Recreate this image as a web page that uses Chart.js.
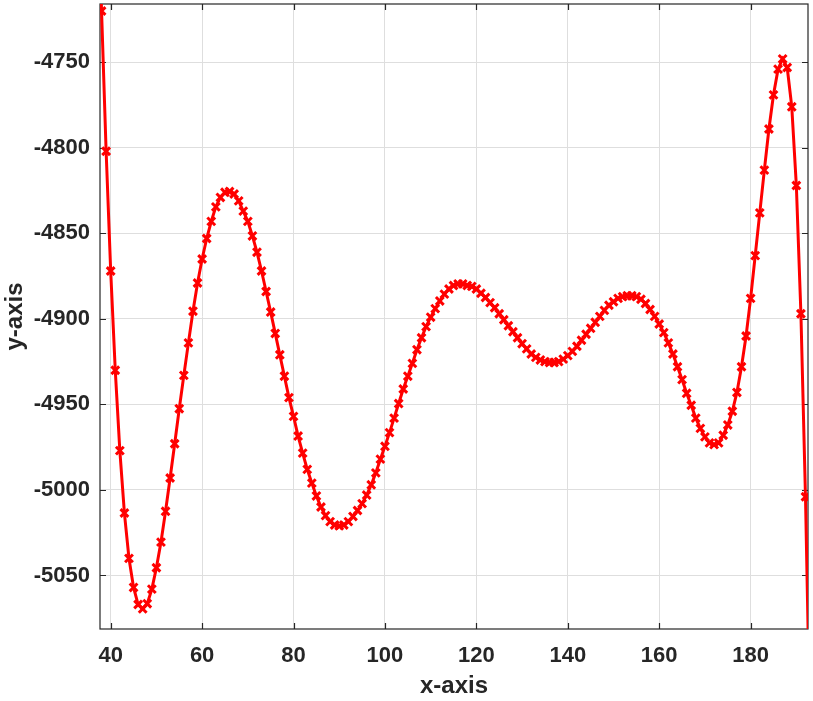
<!DOCTYPE html>
<html>
<head>
<meta charset="utf-8">
<title>x-axis / y-axis</title>
<script src="https://cdn.jsdelivr.net/npm/chart.js@4/dist/chart.umd.min.js"></script>
<style>
  html, body { margin: 0; padding: 0; background: #fff; }
  canvas { display: block; }
</style>
</head>
<body>
<canvas id="chart" width="813" height="701"></canvas>
<script>
// values, one point per x step
const xValues = [
  37, 38, 39, 40, 41, 42, 43, 44, 45, 46, 47, 48, 49, 50, 51, 52, 53, 54, 55, 56,
  57, 58, 59, 60, 61, 62, 63, 64, 65, 66, 67, 68, 69, 70, 71, 72, 73, 74, 75, 76,
  77, 78, 79, 80, 81, 82, 83, 84, 85, 86, 87, 88, 89, 90, 91, 92, 93, 94, 95, 96,
  97, 98, 99, 100, 101, 102, 103, 104, 105, 106, 107, 108, 109, 110, 111, 112, 113, 114, 115, 116,
  117, 118, 119, 120, 121, 122, 123, 124, 125, 126, 127, 128, 129, 130, 131, 132, 133, 134, 135, 136,
  137, 138, 139, 140, 141, 142, 143, 144, 145, 146, 147, 148, 149, 150, 151, 152, 153, 154, 155, 156,
  157, 158, 159, 160, 161, 162, 163, 164, 165, 166, 167, 168, 169, 170, 171, 172, 173, 174, 175, 176,
  177, 178, 179, 180, 181, 182, 183, 184, 185, 186, 187, 188, 189, 190, 191, 192, 193
];

const yValues = [
  -4626, -4720, -4802, -4872, -4930, -4977, -5013.5, -5040, -5057, -5067,
  -5069.5, -5066.5, -5058, -5045.5, -5030.5, -5012.5, -4993, -4973, -4952.5, -4933,
  -4914, -4895.5, -4879, -4865, -4853, -4843, -4834.5, -4829, -4826, -4825.5,
  -4827, -4831, -4837, -4843, -4851.5, -4861, -4872, -4884, -4896, -4908.5,
  -4921, -4933.5, -4946, -4957, -4968.5, -4978.5, -4988, -4996, -5003.5, -5010,
  -5015, -5018.5, -5020.5, -5021, -5020.5, -5018.5, -5015.5, -5012, -5008, -5003,
  -4997, -4990, -4982, -4974.5, -4966.5, -4958, -4949.5, -4941, -4933.5, -4926,
  -4918, -4911, -4904.5, -4899, -4894, -4889.5, -4885.5, -4882.5, -4880.5, -4879.5,
  -4879.5, -4880.5, -4881, -4882.5, -4885, -4887.5, -4890.5, -4893.5, -4897, -4900.5,
  -4904, -4907.5, -4911, -4914.5, -4917.5, -4920.5, -4922.5, -4924, -4925, -4925.5,
  -4925.5, -4925, -4923.5, -4921.5, -4919, -4916, -4912.5, -4909, -4905.5, -4902,
  -4898.5, -4895, -4892, -4890, -4888, -4887, -4886.5, -4886.5, -4887, -4888.5,
  -4891, -4894.5, -4898.5, -4903, -4908, -4914, -4920.5, -4928, -4935.5, -4943.5,
  -4950.5, -4958, -4964, -4969, -4972.5, -4973.5, -4972.5, -4968, -4962, -4954,
  -4943, -4928, -4910, -4888, -4863, -4838, -4813, -4789, -4769, -4754,
  -4748, -4753, -4776, -4822, -4897, -5004, -5141
];

const xTicks = [40, 60, 80, 100, 120, 140, 160, 180];
const yTicks = [-5050, -5000, -4950, -4900, -4850, -4800, -4750];

const xRange = [37.66, 192.55];
const yRange = [-5081.3, -4715.9];

const ink = '#262626';

// MATLAB style box with inward tick marks on all four sides
const axesBox = {
  id: 'axesBox',
  beforeDatasetsDraw(chart) {
    const { ctx, chartArea: a, scales: { x, y } } = chart;
    const len = 6;
    ctx.save();
    ctx.strokeStyle = ink;
    ctx.lineWidth = 1.2;
    ctx.strokeRect(a.left, a.top, a.right - a.left, a.bottom - a.top);
    ctx.beginPath();
    x.ticks.forEach(t => {
      const px = Math.round(x.getPixelForValue(t.value)) + 0.5;
      ctx.moveTo(px, a.bottom);
      ctx.lineTo(px, a.bottom - len);
      ctx.moveTo(px, a.top);
      ctx.lineTo(px, a.top + len);
    });
    y.ticks.forEach(t => {
      const py = Math.round(y.getPixelForValue(t.value)) + 0.5;
      ctx.moveTo(a.left, py);
      ctx.lineTo(a.left + len, py);
      ctx.moveTo(a.right, py);
      ctx.lineTo(a.right - len, py);
    });
    ctx.stroke();
    ctx.restore();
  }
};

// keep label overhang from pushing the plot area in
function noOverhang(s) {
  s.paddingTop = 0;
  s.paddingBottom = 0;
  s.paddingLeft = 0;
  s.paddingRight = 0;
}

const points = xValues.map((x, i) => ({ x: x, y: yValues[i] }));

new Chart(document.getElementById('chart'), {
  type: 'line',
  data: {
    datasets: [{
      data: points,
      borderColor: '#ff0000',
      backgroundColor: '#ff0000',
      borderWidth: 3,
      tension: 0,
      pointStyle: 'crossRot',
      pointRadius: 5.5,
      pointBorderWidth: 3,
      pointBorderColor: '#ff0000',
      clip: 0
    }]
  },
  options: {
    responsive: false,
    animation: false,
    layout: { autoPadding: false, padding: { top: 4, right: 5, left: 0, bottom: 0 } },
    plugins: {
      legend: { display: false },
      tooltip: { enabled: false }
    },
    scales: {
      x: {
        type: 'linear',
        min: xRange[0],
        max: xRange[1],
        afterBuildTicks: s => { s.ticks = xTicks.map(v => ({ value: v })); },
        afterFit: s => { s.height = 72; noOverhang(s); },
        grid: { color: '#dedede', lineWidth: 1, drawTicks: false },
        border: { display: false },
        ticks: {
          color: ink,
          padding: 14,
          maxRotation: 0,
          font: { family: 'Liberation Sans, Arial, sans-serif', size: 22, weight: 'bold' }
        },
        title: {
          display: true,
          text: 'x-axis',
          color: ink,
          padding: { top: 0, bottom: 0 },
          font: { family: 'Liberation Sans, Arial, sans-serif', size: 24, weight: 'bold' }
        }
      },
      y: {
        type: 'linear',
        min: yRange[0],
        max: yRange[1],
        afterBuildTicks: s => { s.ticks = yTicks.map(v => ({ value: v })); },
        afterFit: s => { s.width = 100; noOverhang(s); },
        grid: { color: '#dedede', lineWidth: 1, drawTicks: false },
        border: { display: false },
        ticks: {
          color: ink,
          padding: 10,
          callback: v => String(v),
          font: { family: 'Liberation Sans, Arial, sans-serif', size: 22, weight: 'bold' }
        },
        title: {
          display: true,
          text: 'y-axis',
          color: ink,
          padding: { top: 1, bottom: 0 },
          font: { family: 'Liberation Sans, Arial, sans-serif', size: 24, weight: 'bold' }
        }
      }
    }
  },
  plugins: [axesBox]
});
</script>
</body>
</html>
